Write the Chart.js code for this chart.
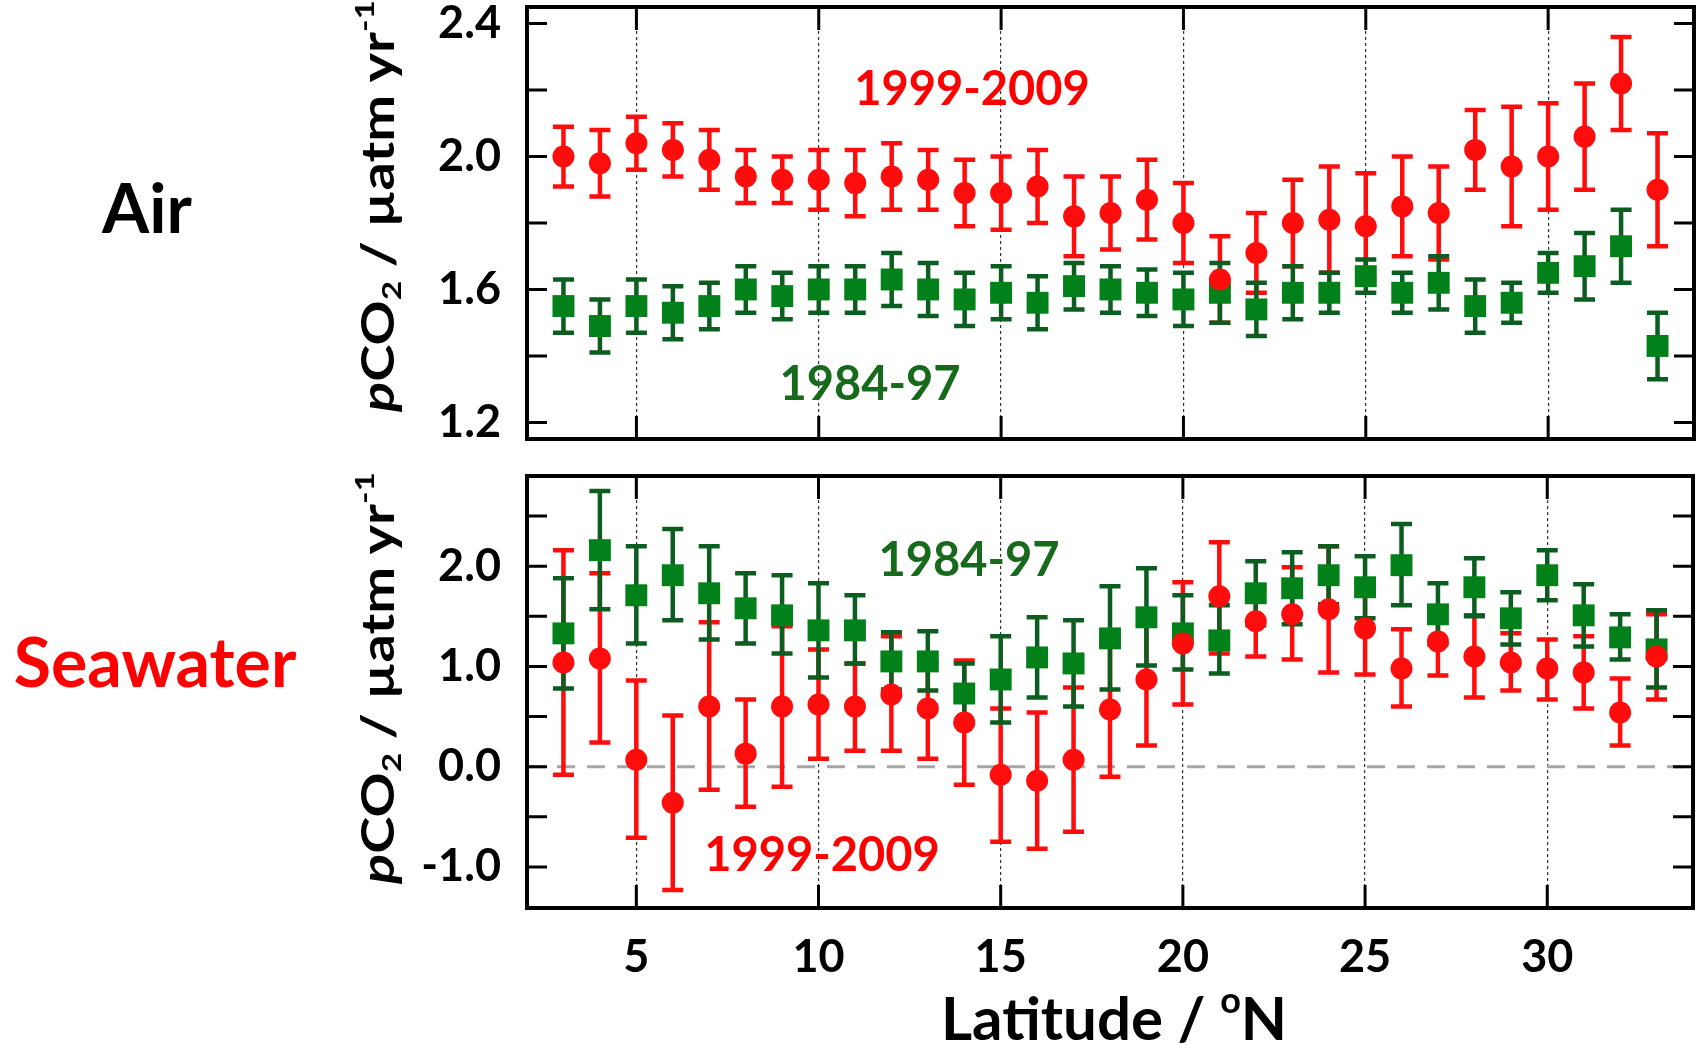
<!DOCTYPE html>
<html lang="en">
<head>
<meta charset="UTF-8">
<title>pCO2 growth rate vs latitude</title>
<style>
  body { margin: 0; background: #fff; font-family: Lato, "Open Sans", sans-serif; }
  .figure { position: relative; width: 1700px; height: 1045px; background: #fff; overflow: hidden; }
  canvas { position: absolute; left: 0; }
  #airChart { top: 0; }
  #seaChart { top: 460px; }
  .txt { position: absolute; font-weight: bold; line-height: 1; white-space: nowrap; transform: translate(-50%, -50%); }
  .side { font-size: 68px; }
  .ann { font-size: 47px; }
  .ytitle { font-size: 56px; transform: translate(-50%, -50%) rotate(-90deg) scaleY(0.82); }
  .xtitle { font-size: 60px; }
  sub { font-size: 60%; vertical-align: -0.25em; line-height: 0; }
  sup { font-size: 60%; vertical-align: 0.75em; line-height: 0; }
</style>
</head>
<body>
<div class="figure">
  <canvas id="airChart" width="1700" height="460"></canvas>
  <canvas id="seaChart" width="1700" height="585"></canvas>

  <div class="txt side" style="left:147px; top:207px; color:#000;">Air</div>
  <div class="txt side" style="left:155px; top:661px; color:#ff0000;">Seawater</div>
  <div class="txt ytitle" style="left:377px; top:206px;"><i>p</i>CO<sub>2</sub> / µatm yr<sup>-1</sup></div>
  <div class="txt ytitle" style="left:377px; top:678px;"><i>p</i>CO<sub>2</sub> / µatm yr<sup>-1</sup></div>
  <div class="txt xtitle" style="left:1114px; top:1017px;">Latitude / <sup>o</sup>N</div>

  <div class="txt ann" style="left:972px; top:87px; color:#ff0000;">1999-2009</div>
  <div class="txt ann" style="left:870px; top:382px; color:#17691b;">1984-97</div>
  <div class="txt ann" style="left:969px; top:558px; color:#17691b;">1984-97</div>
  <div class="txt ann" style="left:822px; top:853px; color:#ff0000;">1999-2009</div>
</div>

<script src="https://cdn.jsdelivr.net/npm/chart.js"></script>
<script>
// latitude of each bin (deg N)
var lat = [3, 4, 5, 6, 7, 8, 9, 10, 11, 12, 13, 14, 15, 16, 17, 18,
           19, 20, 21, 22, 23, 24, 25, 26, 27, 28, 29, 30, 31, 32, 33];

// Air, 1999-2009 (red circles): value, upper and lower end of error bar
var airNew   = [2.00, 1.98, 2.04, 2.02, 1.99, 1.94, 1.93, 1.93, 1.92, 1.94, 1.93, 1.89, 1.89, 1.91, 1.82, 1.83,
                1.87, 1.80, 1.63, 1.71, 1.80, 1.81, 1.79, 1.85, 1.83, 2.02, 1.97, 2.00, 2.06, 2.22, 1.90];
var airNewHi = [2.09, 2.08, 2.12, 2.10, 2.08, 2.02, 2.00, 2.02, 2.02, 2.04, 2.02, 1.99, 2.00, 2.02, 1.94, 1.94,
                1.99, 1.92, 1.76, 1.83, 1.93, 1.97, 1.95, 2.00, 1.97, 2.14, 2.15, 2.16, 2.22, 2.36, 2.07];
var airNewLo = [1.91, 1.88, 1.96, 1.94, 1.90, 1.86, 1.86, 1.84, 1.82, 1.84, 1.84, 1.79, 1.78, 1.80, 1.70, 1.72,
                1.75, 1.68, 1.50, 1.59, 1.67, 1.65, 1.63, 1.70, 1.69, 1.90, 1.79, 1.84, 1.90, 2.08, 1.73];

// Air, 1984-97 (green squares)
var airOld   = [1.55, 1.49, 1.55, 1.53, 1.55, 1.60, 1.58, 1.60, 1.60, 1.63, 1.60, 1.57, 1.59, 1.56, 1.61, 1.60,
                1.59, 1.57, 1.59, 1.54, 1.59, 1.59, 1.64, 1.59, 1.62, 1.55, 1.56, 1.65, 1.67, 1.73, 1.43];
var airOldHi = [1.63, 1.57, 1.63, 1.61, 1.62, 1.67, 1.65, 1.67, 1.67, 1.71, 1.68, 1.65, 1.67, 1.64, 1.68, 1.67,
                1.66, 1.65, 1.68, 1.62, 1.67, 1.65, 1.69, 1.65, 1.70, 1.63, 1.62, 1.71, 1.77, 1.84, 1.53];
var airOldLo = [1.47, 1.41, 1.47, 1.45, 1.48, 1.53, 1.51, 1.53, 1.53, 1.55, 1.52, 1.49, 1.51, 1.48, 1.54, 1.53,
                1.52, 1.49, 1.50, 1.46, 1.51, 1.53, 1.59, 1.53, 1.54, 1.47, 1.50, 1.59, 1.57, 1.62, 1.33];

// Seawater, 1999-2009 (red circles)
var seaNew   = [1.04, 1.08, 0.07, -0.36, 0.60, 0.13, 0.60, 0.62, 0.60, 0.72, 0.58, 0.44, -0.08, -0.14, 0.07, 0.57,
                0.87, 1.23, 1.70, 1.45, 1.52, 1.57, 1.38, 0.98, 1.25, 1.10, 1.04, 0.98, 0.94, 0.54, 1.10];
var seaNewHi = [2.16, 1.93, 0.86, 0.51, 1.44, 0.67, 1.40, 1.17, 1.03, 1.30, 1.03, 1.06, 0.58, 0.54, 0.79, 1.25,
                1.55, 1.84, 2.24, 1.78, 1.99, 2.20, 1.85, 1.37, 1.60, 1.51, 1.33, 1.27, 1.30, 0.88, 1.52];
var seaNewLo = [-0.08, 0.24, -0.71, -1.23, -0.23, -0.40, -0.20, 0.08, 0.16, 0.16, 0.08, -0.18, -0.75, -0.82, -0.65, -0.10,
                0.21, 0.62, 1.13, 1.10, 1.07, 0.94, 0.92, 0.60, 0.91, 0.69, 0.76, 0.67, 0.58, 0.21, 0.67];

// Seawater, 1984-97 (green squares)
var seaOld   = [1.33, 2.16, 1.71, 1.91, 1.73, 1.58, 1.51, 1.36, 1.36, 1.05, 1.05, 0.73, 0.87, 1.09, 1.03, 1.28,
                1.49, 1.33, 1.26, 1.73, 1.78, 1.91, 1.79, 2.01, 1.52, 1.79, 1.48, 1.91, 1.51, 1.29, 1.17];
var seaOldHi = [1.88, 2.75, 2.20, 2.37, 2.20, 1.93, 1.91, 1.83, 1.71, 1.34, 1.35, 1.03, 1.30, 1.49, 1.46, 1.80,
                1.98, 1.71, 1.61, 2.05, 2.14, 2.20, 2.10, 2.42, 1.83, 2.08, 1.74, 2.16, 1.82, 1.52, 1.56];
var seaOldLo = [0.78, 1.57, 1.23, 1.46, 1.27, 1.23, 1.13, 0.89, 1.03, 0.77, 0.76, 0.43, 0.44, 0.69, 0.60, 0.77,
                1.01, 0.97, 0.93, 1.41, 1.42, 1.62, 1.48, 1.61, 1.22, 1.50, 1.22, 1.66, 1.20, 1.07, 0.79];

// axis ticks
var latTicks = [5, 10, 15, 20, 25, 30];
var airTicks = [1.2, 1.4, 1.6, 1.8, 2.0, 2.2, 2.4];
var airLabeled = [1.2, 1.6, 2.0, 2.4];
var seaTicks = [-1.0, -0.5, 0, 0.5, 1.0, 1.5, 2.0, 2.5];
var seaLabeled = [-1.0, 0, 1.0, 2.0];

var red = '#ff0d0d';
var green = '#028019';
var greenBar = '#0b5e20';
var tickFont = { family: 'Lato', weight: 'bold', size: 45 };

function points(v, hi, lo) {
    return lat.map(function (x, i) { return { x: x, y: v[i], hi: hi[i], lo: lo[i] }; });
}

// error bars, zero line, inward tick marks and the heavy frame
var framePlugin = {
    id: 'frame',
    beforeDatasetsDraw: function (chart, args, opts) {
        var ctx = chart.ctx, a = chart.chartArea, x = chart.scales.x, y = chart.scales.y;
        ctx.save();
        if (opts.zeroLine) {
            var py = y.getPixelForValue(0);
            ctx.strokeStyle = '#a6a6a6';
            ctx.lineWidth = 3;
            ctx.setLineDash([18, 12]);
            ctx.beginPath(); ctx.moveTo(a.left, py); ctx.lineTo(a.right, py); ctx.stroke();
            ctx.setLineDash([]);
        }
        chart.data.datasets.forEach(function (ds) {
            ctx.strokeStyle = ds.barColor;
            ctx.lineWidth = 4.5;
            ds.data.forEach(function (p) {
                var px = x.getPixelForValue(p.x);
                var top = y.getPixelForValue(p.hi), bot = y.getPixelForValue(p.lo);
                ctx.beginPath();
                ctx.moveTo(px, top); ctx.lineTo(px, bot);
                ctx.moveTo(px - 10.5, top); ctx.lineTo(px + 10.5, top);
                ctx.moveTo(px - 10.5, bot); ctx.lineTo(px + 10.5, bot);
                ctx.stroke();
            });
        });
        ctx.restore();
    },
    afterDraw: function (chart) {
        var ctx = chart.ctx, a = chart.chartArea, x = chart.scales.x, y = chart.scales.y;
        ctx.save();
        ctx.strokeStyle = '#000';
        ctx.lineWidth = 3;
        ctx.beginPath();
        y.ticks.forEach(function (t) {
            var py = y.getPixelForValue(t.value);
            ctx.moveTo(a.left, py); ctx.lineTo(a.left + 20, py);
            ctx.moveTo(a.right - 20, py); ctx.lineTo(a.right, py);
        });
        x.ticks.forEach(function (t) {
            var px = x.getPixelForValue(t.value);
            ctx.moveTo(px, a.top); ctx.lineTo(px, a.top + 23);
            ctx.moveTo(px, a.bottom - 23); ctx.lineTo(px, a.bottom);
        });
        ctx.stroke();
        ctx.lineWidth = 4;
        ctx.strokeRect(a.left, a.top, a.right - a.left, a.bottom - a.top);
        ctx.restore();
    }
};

function makeChart(id, newPts, oldPts, yMin, yMax, yTicks, yLabeled, showX, opts) {
    return new Chart(document.getElementById(id), {
        type: 'scatter',
        data: {
            datasets: [
                {
                    label: '1999-2009', data: newPts, order: 0,
                    pointStyle: 'circle', pointRadius: 11, pointHoverRadius: 11,
                    backgroundColor: red, borderWidth: 0, barColor: red
                },
                {
                    label: '1984-97', data: oldPts, order: 1,
                    pointStyle: 'rect', pointRadius: 15.5, pointHoverRadius: 15.5,
                    backgroundColor: green, borderWidth: 0, barColor: greenBar
                }
            ]
        },
        options: {
            responsive: false,
            animation: false,
            events: [],
            layout: { padding: opts.padding, autoPadding: false },
            plugins: {
                legend: { display: false },
                tooltip: { enabled: false },
                frame: { zeroLine: opts.zeroLine }
            },
            scales: {
                x: {
                    type: 'linear', min: 2, max: 34, bounds: 'data',
                    afterBuildTicks: function (s) { s.ticks = latTicks.map(function (v) { return { value: v }; }); },
                    afterFit: function (s) { s.height = opts.xHeight; s.paddingLeft = 0; s.paddingRight = 0; },
                    grid: { color: '#333', lineWidth: 1.2, drawTicks: false },
                    border: { display: false, dash: [3, 3] },
                    ticks: { display: showX, autoSkip: false, maxRotation: 0, padding: 22, color: '#000', font: tickFont }
                },
                y: {
                    type: 'linear', min: yMin, max: yMax, bounds: 'data',
                    afterBuildTicks: function (s) { s.ticks = yTicks.map(function (v) { return { value: v }; }); },
                    afterFit: function (s) { s.width = 527; s.paddingTop = 0; s.paddingBottom = 0; },
                    grid: { display: false, drawTicks: false },
                    border: { display: false },
                    ticks: {
                        autoSkip: false, padding: 26, color: '#000', font: tickFont,
                        callback: function (v) { return yLabeled.indexOf(v) >= 0 ? v.toFixed(1) : ''; }
                    }
                }
            }
        },
        plugins: [framePlugin]
    });
}

makeChart('airChart', points(airNew, airNewHi, airNewLo), points(airOld, airOldHi, airOldLo),
    1.15, 2.45, airTicks, airLabeled, false,
    { padding: { top: 7, right: 6, bottom: 21, left: 0 }, xHeight: 0, zeroLine: false });

makeChart('seaChart', points(seaNew, seaNewHi, seaNewLo), points(seaOld, seaOldHi, seaOldLo),
    -1.41, 2.9, seaTicks, seaLabeled, true,
    { padding: { top: 16, right: 7, bottom: 0, left: 0 }, xHeight: 137, zeroLine: true });
</script>
</body>
</html>
